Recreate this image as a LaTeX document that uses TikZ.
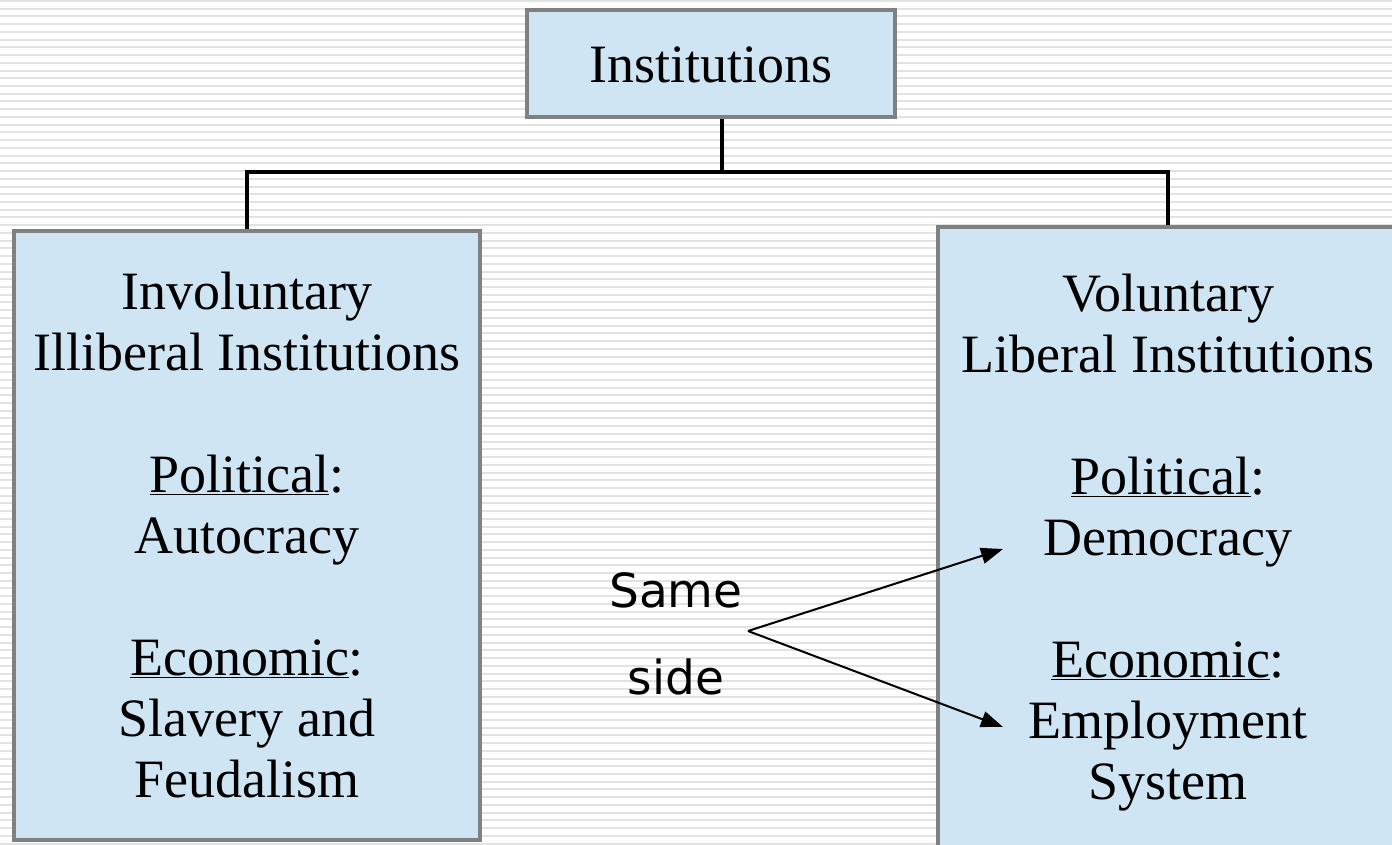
\documentclass[tikz,border=0pt]{standalone}
\usepackage{fontspec}
\setmainfont{Liberation Serif}
\newfontfamily\samefont{DejaVu Sans}
\usetikzlibrary{arrows.meta}
\definecolor{boxfill}{RGB}{207,229,243}
\definecolor{boxline}{RGB}{128,128,128}
\definecolor{stripe}{RGB}{226,226,226}
\begin{document}
\begin{tikzpicture}[x=1pt,y=-1pt,
  box/.style={draw=boxline,line width=4pt,fill=boxfill,inner sep=0pt},
  btext/.style={align=center,font=\fontsize{54}{61}\selectfont,inner sep=0pt},
  conn/.style={line width=4pt,line join=miter},
  arr/.style={line width=2pt,-{Triangle[length=22pt,width=16pt]}}]
\useasboundingbox (0,0) rectangle (1392,844);
\clip (0,0) rectangle (1392,844);
\fill[white] (0,0) rectangle (1392,844);
\foreach \i in {0,...,110} {
  \draw[stripe,line width=2pt] (0,{1+7.73*\i}) -- (1392,{1+7.73*\i});
}
\node[box,minimum width=368pt,minimum height=107pt] (top) at (711,63.5) {};
\node[btext] (toptext) at (711,65) {Institutions};
\node[box,minimum width=466pt,minimum height=609pt] (left) at (247,535.5) {};
\node[box,minimum width=460pt,minimum height=623pt] (right) at (1168,538.5) {};
\node[btext,anchor=base] (ltext) at (247,797) {Involuntary\\Illiberal Institutions\\[61pt]\underline{Political}:\\Autocracy\\[61pt]\underline{Economic}:\\Slavery and\\Feudalism};
\node[btext,anchor=base] (rtext) at (1168,799) {Voluntary\\Liberal Institutions\\[61pt]\underline{Political}:\\Democracy\\[61pt]\underline{Economic}:\\Employment\\System};
\coordinate (bus) at (722,172);
\draw[conn] (top.south -| bus) -- (bus);
\draw[conn] (left.north) |- (bus) -| (right.north);
\node[font=\samefont\fontsize{47}{87}\selectfont,align=center,inner sep=0pt,anchor=base] (same) at (676,694) {Same\\side};
\coordinate (split) at (748,631);
\coordinate (demo) at (1003,549);
\coordinate (empl) at (1003,727);
\draw[arr] (split) -- (demo);
\draw[arr] (split) -- (empl);
\end{tikzpicture}
\end{document}
